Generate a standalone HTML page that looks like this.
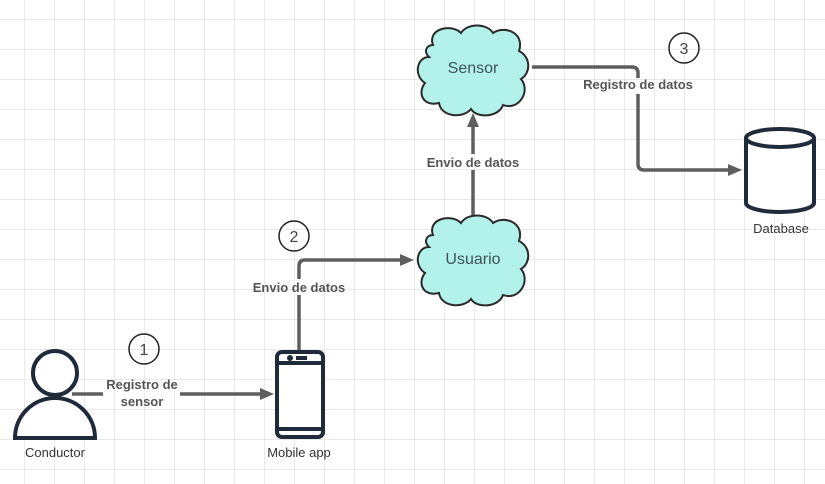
<!DOCTYPE html>
<html><head><meta charset="utf-8"><style>
html,body{margin:0;padding:0;background:#fff}
svg{display:block}
text{font-family:"Liberation Sans",sans-serif}
</style></head><body>
<svg width="825" height="484" viewBox="0 0 825 484" xmlns="http://www.w3.org/2000/svg">
<defs>
<pattern id="g" x="24" y="19" width="30" height="30" patternUnits="userSpaceOnUse">
<path d="M0 0H30M0 0V30" stroke="#dcdcdc" stroke-width="1.2" fill="none"/>
</pattern>
<g id="cloud">
<path d="M20 22 C14 6 38 0 48 10 C54 0 74 0 80 10 C92 2 112 10 106 28 C118 34 118 50 108 56 C118 68 106 88 90 82 C86 94 64 96 58 86 C50 96 28 94 26 80 C10 84 4 70 12 60 C0 52 4 34 16 34 C10 28 14 22 20 22 Z" fill="#b3f2eb" stroke="#2a2a2a" stroke-width="2"/>
</g>
</defs>
<rect width="825" height="484" fill="url(#g)"/>

<!-- connectors -->
<g stroke="#5e5e5e" stroke-width="3.5" fill="none">
<path d="M72 394H103" />
<path d="M180 394H262" />
<path d="M299 350V295 M299 279V266 Q299 260 305 260H402" />
<path d="M473 215V170 M473 154V125" />
<path d="M532 67H632 Q638 67 638 73V78 M638 94V164 Q638 170 644 170H730" />
</g>
<g fill="#5e5e5e">
<path d="M260 388L274 394L260 400Z"/>
<path d="M400 254L414 260L400 266Z"/>
<path d="M467 127L473 113L479 127Z"/>
<path d="M728 164L742 170L728 176Z"/>
</g>

<g font-size="13" font-weight="bold" fill="#555" text-anchor="middle">
<text x="142" y="389">Registro de</text>
<text x="142" y="406">sensor</text>
<text x="299" y="292">Envio de datos</text>
<text x="473" y="167">Envio de datos</text>
<text x="638" y="89">Registro de datos</text>
</g>

<!-- numbered circles -->
<g fill="none" stroke="#222" stroke-width="1.5">
<circle cx="144" cy="349" r="15"/>
<circle cx="294" cy="236" r="15"/>
<circle cx="684" cy="48" r="15"/>
</g>
<g font-size="16" fill="#444" text-anchor="middle">
<text x="144" y="355">1</text>
<text x="294" y="242">2</text>
<text x="684" y="54">3</text>
</g>

<!-- clouds -->
<use href="#cloud" transform="translate(413,23)"/>
<use href="#cloud" transform="translate(413,213)"/>
<text x="473" y="73" font-size="16" fill="#3d5356" text-anchor="middle">Sensor</text>
<text x="473" y="264" font-size="16" fill="#3d5356" text-anchor="middle">Usuario</text>

<!-- person -->
<g stroke="#1f2a3a" stroke-width="4" fill="#fff">
<path d="M15 438 A40 40 0 0 1 95 438 Z"/>
<circle cx="55" cy="373" r="22"/>
</g>

<!-- phone -->
<g stroke="#1f2a3a" stroke-width="4" fill="#fff">
<rect x="277" y="352" width="46" height="85" rx="5"/>
<path d="M277 363H323 M277 429H323" fill="none"/>
</g>
<circle cx="290" cy="358" r="3" fill="#1f2a3a"/>
<rect x="296" y="356" width="11" height="4" fill="#1f2a3a"/>

<!-- database -->
<g stroke="#1f2a3a" stroke-width="4" fill="#fff">
<path d="M746 138V203 A34 9 0 0 0 814 203V138"/>
<ellipse cx="780" cy="138" rx="34" ry="9"/>
</g>

<g font-size="13" fill="#333" text-anchor="middle">
<text x="55" y="457">Conductor</text>
<text x="299" y="457">Mobile app</text>
<text x="781" y="233">Database</text>
</g>
</svg>
</body></html>
